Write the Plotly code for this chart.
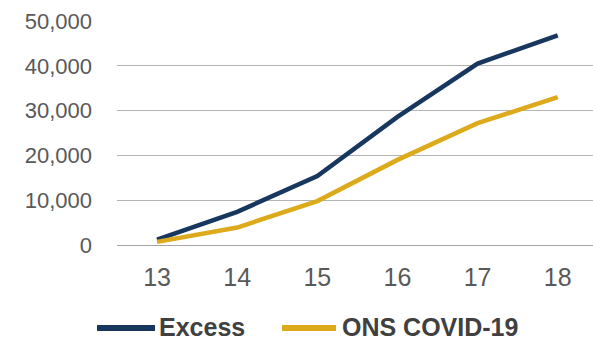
import plotly.graph_objects as go

weeks = ["13", "14", "15", "16", "17", "18"]
excess = [1200, 7400, 15400, 28600, 40500, 46800]
ons_covid = [700, 3900, 9800, 19000, 27200, 33000]
series_names = ["Excess", "ONS COVID-19"]
series_colors = ["#17375E", "#DDAA1C"]
y_ticks = [0, 10000, 20000, 30000, 40000, 50000]
y_labels = ["0", "10,000", "20,000", "30,000", "40,000", "50,000"]

fig = go.Figure()
for name, vals, col in zip(series_names, [excess, ons_covid], series_colors):
    fig.add_trace(go.Scatter(x=weeks, y=vals, mode="lines", name=name,
                             line=dict(color=col, width=4.5), showlegend=False))

# custom legend (paper coords relative to plot area: left 117px, width 476px; bottom 245px, height 224px)
W, L, B, H = 476.0, 117.0, 245.0, 224.0
def px(x):
    return (x - L) / W
def py(y):
    return (B - y) / H

leg_y = 328
leg_items = [(97, 155, 158), (282, 336, 341)]
for (x0, x1, tx), name, col in zip(leg_items, series_names, series_colors):
    fig.add_shape(type="line", xref="paper", yref="paper",
                  x0=px(x0), x1=px(x1), y0=py(leg_y), y1=py(leg_y),
                  line=dict(color=col, width=6))
    fig.add_annotation(xref="paper", yref="paper", x=px(tx), y=py(leg_y - 1),
                       xanchor="left", yanchor="middle", text=name, showarrow=False,
                       borderpad=0,
                       font=dict(size=25, color="#404040", weight="bold",
                                 family="Liberation Sans, Arial, sans-serif"))

fig.update_layout(
    width=593, height=343,
    margin=dict(l=117, r=0, t=21, b=98, autoexpand=False),
    plot_bgcolor="white", paper_bgcolor="white",
    font=dict(family="Liberation Sans, Arial, sans-serif", color="#595959"),
    showlegend=False,
)
fig.update_xaxes(type="category", range=[-0.5, 5.44], showgrid=False,
                 showline=True, linecolor="#A6A6A6", linewidth=1,
                 ticks="", tickfont=dict(size=25), ticklabelstandoff=10, zeroline=False)
fig.update_yaxes(range=[0, 50000], tickvals=y_ticks, ticktext=y_labels,
                 showgrid=True, gridcolor="#B4B4B4", gridwidth=1,
                 showline=False, zeroline=False, ticks="",
                 tickfont=dict(size=22), ticklabelstandoff=24)

fig.write_html("out.html")
